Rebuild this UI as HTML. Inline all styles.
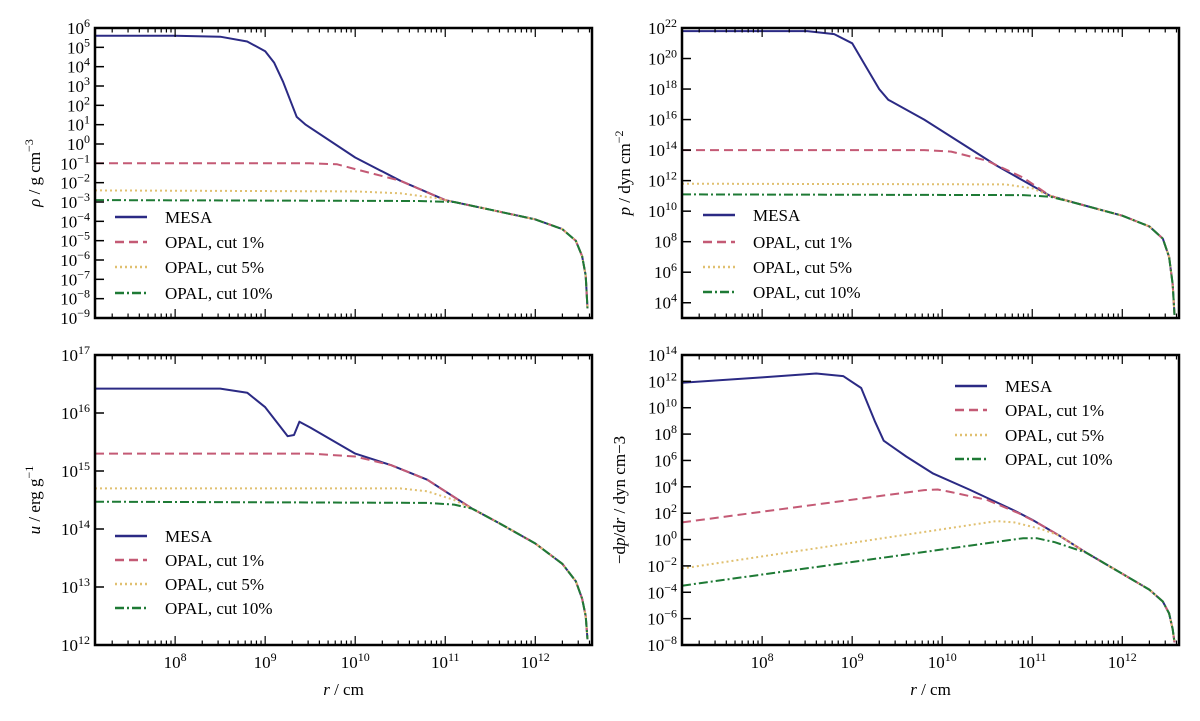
<!DOCTYPE html>
<html><head><meta charset="utf-8"><style>
body{margin:0;background:#fff}
svg{display:block;font-family:"Liberation Serif",serif}
</style></head><body>
<svg id="fig" width="1200" height="721" viewBox="0 0 1200 721"></svg>
<script>
// shared x data (log10 r)
const xTickLabels=["8","9","10","11","12"];
// panel A: density
const rhoMesaR=[7.11,8.0,8.5,8.8,9.0,9.1,9.2,9.3,9.35,9.45,10.0,10.5,11.0,11.5,12.0,12.3,12.45,12.52,12.56,12.58];
const rhoMesaV=[5.6,5.6,5.55,5.3,4.8,4.2,3.2,2.0,1.4,1.0,-0.7,-1.9,-2.9,-3.4,-3.9,-4.4,-5.0,-5.8,-6.8,-8.5];
const rho1R=[7.11,9.5,9.8,10.0,10.5,11.0,11.5,12.0,12.3,12.45,12.52,12.56,12.58];
const rho1V=[-1,-1,-1.05,-1.3,-1.9,-2.9,-3.4,-3.9,-4.4,-5.0,-5.8,-6.8,-8.5];
const rho5R=[7.11,10.0,10.5,10.9,11.1,11.5,12.0,12.3,12.45,12.52,12.56,12.58];
const rho5V=[-2.4,-2.45,-2.55,-2.8,-3.0,-3.4,-3.9,-4.4,-5.0,-5.8,-6.8,-8.5];
const rho10R=[7.11,10.7,11.1,11.5,12.0,12.3,12.45,12.52,12.56,12.58];
const rho10V=[-2.9,-2.95,-3.0,-3.4,-3.9,-4.4,-5.0,-5.8,-6.8,-8.5];
// panel B: pressure
const pMesaR=[7.11,8.5,8.8,9.0,9.15,9.3,9.4,9.8,10.2,10.6,10.9,11.2,11.5,12.0,12.3,12.45,12.52,12.56,12.58];
const pMesaV=[21.8,21.8,21.6,21.0,19.5,18.0,17.3,16.0,14.5,13.0,12.0,11.0,10.5,9.7,9.0,8.2,7.0,5.2,3.2];
const p1R=[7.11,9.8,10.1,10.5,10.9,11.2,11.5,12.0,12.3,12.45,12.52,12.56,12.58];
const p1V=[14,14,13.9,13.3,12.2,11.0,10.5,9.7,9.0,8.2,7.0,5.2,3.2];
const p5R=[7.11,10.7,11.0,11.2,11.5,12.0,12.3,12.45,12.52,12.56,12.58];
const p5V=[11.8,11.75,11.5,11.0,10.5,9.7,9.0,8.2,7.0,5.2,3.2];
const p10R=[7.11,10.9,11.2,11.5,12.0,12.3,12.45,12.52,12.56,12.58];
const p10V=[11.1,11.05,10.95,10.5,9.7,9.0,8.2,7.0,5.2,3.2];
// panel C: internal energy
const uMesaR=[7.11,8.5,8.8,9.0,9.15,9.25,9.32,9.38,9.5,10.0,10.4,10.8,11.1,11.3,11.6,12.0,12.3,12.45,12.52,12.56,12.58];
const uMesaV=[16.42,16.42,16.35,16.1,15.8,15.6,15.62,15.85,15.75,15.3,15.1,14.85,14.55,14.35,14.1,13.75,13.4,13.1,12.8,12.5,12.1];
const u1R=[7.11,9.5,10.0,10.4,10.8,11.1,11.3,11.6,12.0,12.3,12.45,12.52,12.56,12.58];
const u1V=[15.3,15.3,15.25,15.1,14.85,14.55,14.35,14.1,13.75,13.4,13.1,12.8,12.5,12.1];
const u5R=[7.11,10.5,10.8,11.1,11.3,11.6,12.0,12.3,12.45,12.52,12.56,12.58];
const u5V=[14.7,14.7,14.65,14.5,14.35,14.1,13.75,13.4,13.1,12.8,12.5,12.1];
const u10R=[7.11,10.8,11.1,11.3,11.6,12.0,12.3,12.45,12.52,12.56,12.58];
const u10V=[14.47,14.45,14.42,14.35,14.1,13.75,13.4,13.1,12.8,12.5,12.1];
// panel D: pressure gradient
const gMesaR=[7.11,8.0,8.6,8.9,9.1,9.25,9.35,9.6,9.9,10.3,10.55,10.8,11.0,11.3,11.6,12.0,12.3,12.45,12.52,12.56,12.58];
const gMesaV=[11.9,12.3,12.6,12.4,11.5,9.0,7.5,6.3,5.0,3.8,3.0,2.2,1.5,0.3,-1.0,-2.6,-3.8,-4.7,-5.6,-6.8,-7.8];
const g1R=[7.11,9.8,9.95,10.1,10.5,10.85,11.05,11.3,11.6,12.0,12.3,12.45,12.52,12.56,12.58];
const g1V=[1.3,3.75,3.8,3.6,3.0,2.0,1.3,0.3,-1.0,-2.6,-3.8,-4.7,-5.6,-6.8,-7.8];
const g5R=[7.11,10.6,10.8,11.1,11.3,11.6,12.0,12.3,12.45,12.52,12.56,12.58];
const g5V=[-2.2,1.4,1.3,0.8,0.3,-1.0,-2.6,-3.8,-4.7,-5.6,-6.8,-7.8];
const g10R=[7.11,10.9,11.05,11.25,11.6,12.0,12.3,12.45,12.52,12.56,12.58];
const g10V=[-3.5,0.1,0.1,-0.2,-1.0,-2.6,-3.8,-4.7,-5.6,-6.8,-7.8];
const legendLabels=["MESA","OPAL, cut 1%","OPAL, cut 5%","OPAL, cut 10%"];

const NS="http://www.w3.org/2000/svg";
const svg=document.getElementById('fig');
function mk(tag,attrs,parent){const e=document.createElementNS(NS,tag);for(const k in attrs)e.setAttribute(k,attrs[k]);(parent||svg).appendChild(e);return e;}
const styles=[
 {c:"#2b2a84",d:"",w:2},
 {c:"#c45a75",d:"9,5",w:2},
 {c:"#e0c070",d:"2,3",w:2},
 {c:"#1e7a35",d:"9,3,2,3",w:2}];
const XMIN=7.11,XMAX=12.63;
function panel(o){
  const g=mk('g',{});
  
  
  const W=497,H=290;
  const sx=v=>o.x0+(v-XMIN)/(XMAX-XMIN)*W;
  const sy=v=>o.y0+(o.ymax-v)/(o.ymax-o.ymin)*H;
  const cp=mk('clipPath',{id:'c'+o.name},g);
  mk('rect',{x:o.x0,y:o.y0,width:W,height:H},cp);
  o.series.forEach((s,i)=>{
    const st=styles[i];
    const pts=s[0].map((r,j)=>sx(r).toFixed(1)+','+sy(s[1][j]).toFixed(1)).join(' ');
    const pl=mk('polyline',{points:pts,fill:'none',stroke:st.c,'stroke-width':st.w,'stroke-dasharray':st.d,'stroke-linejoin':'round','clip-path':'url(#c'+o.name+')'},g);
    
    
  });
  for(let d=7;d<=12;d++){for(let m=1;m<10;m++){const v=d+Math.log10(m);if(v<XMIN||v>XMAX)continue;const x=sx(v);const L=m==1?9:4.5;
    mk('line',{x1:x,x2:x,y1:o.y0+H,y2:o.y0+H-L,stroke:'#000','stroke-width':1.2},g);
    mk('line',{x1:x,x2:x,y1:o.y0,y2:o.y0+L,stroke:'#000','stroke-width':1.2},g);}}
  if(o.xlabels){xTickLabels.forEach(t=>{const x=sx(+t);const tx=mk('text',{x:x,y:o.y0+H+23,'font-size':17,'text-anchor':'middle'},g);tx.innerHTML='10<tspan dy="-7" font-size="12">'+t+'</tspan>';
      });
    const xt=mk('text',{x:o.x0+W/2,y:o.y0+H+50,'font-size':17,'text-anchor':'middle'},g);xt.innerHTML='<tspan font-style="italic">r</tspan> / cm';
    }
  for(let v=Math.ceil(o.ymin/o.ystep)*o.ystep;v<=o.ymax;v+=o.ystep){const y=sy(v);
    if(v>o.ymin&&v<o.ymax)mk('line',{x1:o.x0,x2:o.x0+9,y1:y,y2:y,stroke:'#000','stroke-width':1.5},g);
    const tx=mk('text',{x:o.x0-5,y:y+6,'font-size':17,'text-anchor':'end'},g);
    tx.innerHTML='10<tspan dy="-7" font-size="12">'+(v<0?'\u2212'+(-v):v)+'</tspan>';
    }
  mk('rect',{x:o.x0,y:o.y0,width:W,height:H,fill:'none',stroke:'#000','stroke-width':2.5},g);
  const yt=mk('text',{transform:'translate('+o.tx+','+(o.y0+H/2)+') rotate(-90)','font-size':17,'text-anchor':'middle'},g);
  yt.innerHTML=o.ytitle;
  legendLabels.forEach((l,i)=>{const st=styles[i];const y=o.ly[i];
    const lg=mk('g',{},g);
    mk('line',{x1:o.lx,x2:o.lx+32,y1:y,y2:y,stroke:st.c,'stroke-width':2.5,'stroke-dasharray':st.d},lg);
    const t=mk('text',{x:o.lx+50,y:y+6,'font-size':17},lg);t.textContent=l;});
}
panel({name:'density-panel',x0:95,y0:28,ymin:-9,ymax:6,ystep:1,tx:40,
 ytitle:'<tspan font-style="italic">ρ</tspan> / g cm<tspan dy="-7" font-size="12">−3</tspan>',
 series:[[rhoMesaR,rhoMesaV],[rho1R,rho1V],[rho5R,rho5V],[rho10R,rho10V]],lx:115,ly:[217,242,267,293]});
panel({name:'pressure-panel',x0:682,y0:28,ymin:3,ymax:22,ystep:2,tx:630,
 ytitle:'<tspan font-style="italic">p</tspan> / dyn cm<tspan dy="-7" font-size="12">−2</tspan>',
 series:[[pMesaR,pMesaV],[p1R,p1V],[p5R,p5V],[p10R,p10V]],lx:703,ly:[215,242,267,292]});
panel({name:'energy-panel',x0:95,y0:355,ymin:12,ymax:17,ystep:1,tx:40,xlabels:true,
 ytitle:'<tspan font-style="italic">u</tspan> / erg g<tspan dy="-7" font-size="12">−1</tspan>',
 series:[[uMesaR,uMesaV],[u1R,u1V],[u5R,u5V],[u10R,u10V]],lx:115,ly:[536,560,584,608]});
panel({name:'gradient-panel',x0:682,y0:355,ymin:-8,ymax:14,ystep:2,tx:625,xlabels:true,
 ytitle:'−d<tspan font-style="italic">p</tspan>/d<tspan font-style="italic">r</tspan> / dyn cm−3',
 series:[[gMesaR,gMesaV],[g1R,g1V],[g5R,g5V],[g10R,g10V]],lx:955,ly:[386,410,435,459]});
</script>
</body></html>
